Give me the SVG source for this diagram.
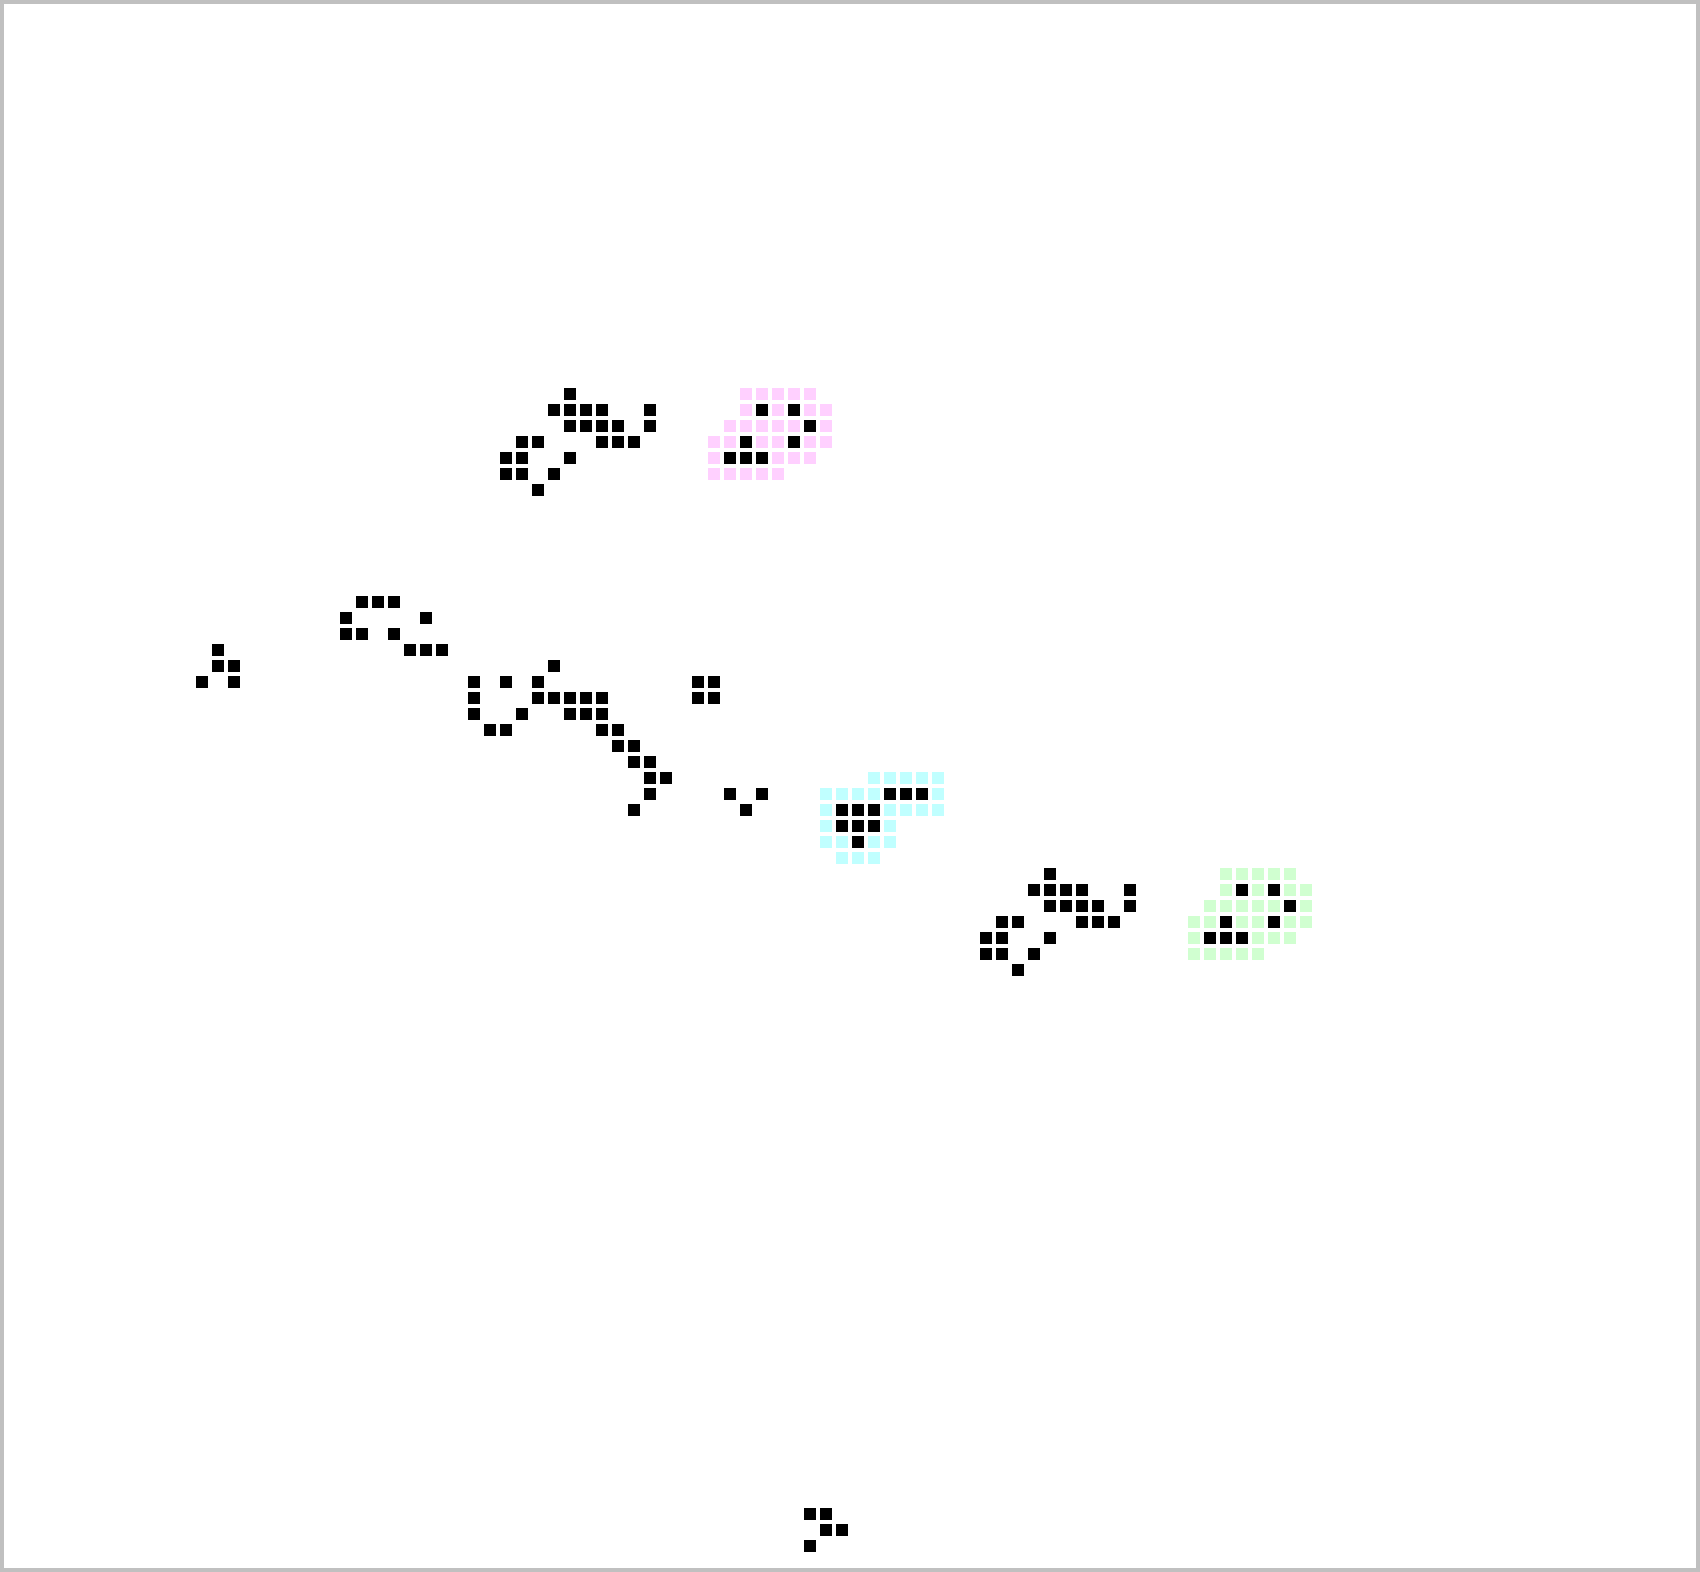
<svg xmlns="http://www.w3.org/2000/svg" xmlns:xlink="http://www.w3.org/1999/xlink" width="1700" height="1572" viewBox="0 0 1700 1572">
<style>
.live{fill:#000000}
.pink{fill:#ffd0ff}
.cyan{fill:#c0ffff}
.green{fill:#d0ffd0}
</style>
<defs><rect id="s" width="12" height="12"/></defs>
<rect x="2" y="2" width="1696" height="1568" fill="#ffffff" stroke="#c0c0c0" stroke-width="4"/>
<g id="halo-pink" class="pink">
<use href="#s" x="740" y="388"/><use href="#s" x="756" y="388"/><use href="#s" x="772" y="388"/><use href="#s" x="788" y="388"/><use href="#s" x="804" y="388"/>
<use href="#s" x="740" y="404"/><use href="#s" x="772" y="404"/><use href="#s" x="804" y="404"/><use href="#s" x="820" y="404"/>
<use href="#s" x="724" y="420"/><use href="#s" x="740" y="420"/><use href="#s" x="756" y="420"/><use href="#s" x="772" y="420"/><use href="#s" x="788" y="420"/><use href="#s" x="820" y="420"/>
<use href="#s" x="708" y="436"/><use href="#s" x="724" y="436"/><use href="#s" x="756" y="436"/><use href="#s" x="772" y="436"/><use href="#s" x="804" y="436"/><use href="#s" x="820" y="436"/>
<use href="#s" x="708" y="452"/><use href="#s" x="772" y="452"/><use href="#s" x="788" y="452"/><use href="#s" x="804" y="452"/>
<use href="#s" x="708" y="468"/><use href="#s" x="724" y="468"/><use href="#s" x="740" y="468"/><use href="#s" x="756" y="468"/><use href="#s" x="772" y="468"/>
</g>
<g id="halo-green" class="green">
<use href="#s" x="1220" y="868"/><use href="#s" x="1236" y="868"/><use href="#s" x="1252" y="868"/><use href="#s" x="1268" y="868"/><use href="#s" x="1284" y="868"/>
<use href="#s" x="1220" y="884"/><use href="#s" x="1252" y="884"/><use href="#s" x="1284" y="884"/><use href="#s" x="1300" y="884"/>
<use href="#s" x="1204" y="900"/><use href="#s" x="1220" y="900"/><use href="#s" x="1236" y="900"/><use href="#s" x="1252" y="900"/><use href="#s" x="1268" y="900"/><use href="#s" x="1300" y="900"/>
<use href="#s" x="1188" y="916"/><use href="#s" x="1204" y="916"/><use href="#s" x="1236" y="916"/><use href="#s" x="1252" y="916"/><use href="#s" x="1284" y="916"/><use href="#s" x="1300" y="916"/>
<use href="#s" x="1188" y="932"/><use href="#s" x="1252" y="932"/><use href="#s" x="1268" y="932"/><use href="#s" x="1284" y="932"/>
<use href="#s" x="1188" y="948"/><use href="#s" x="1204" y="948"/><use href="#s" x="1220" y="948"/><use href="#s" x="1236" y="948"/><use href="#s" x="1252" y="948"/>
</g>
<g id="halo-cyan" class="cyan">
<use href="#s" x="868" y="772"/><use href="#s" x="884" y="772"/><use href="#s" x="900" y="772"/><use href="#s" x="916" y="772"/><use href="#s" x="932" y="772"/>
<use href="#s" x="820" y="788"/><use href="#s" x="836" y="788"/><use href="#s" x="852" y="788"/><use href="#s" x="868" y="788"/><use href="#s" x="932" y="788"/>
<use href="#s" x="820" y="804"/><use href="#s" x="884" y="804"/><use href="#s" x="900" y="804"/><use href="#s" x="916" y="804"/><use href="#s" x="932" y="804"/>
<use href="#s" x="820" y="820"/><use href="#s" x="884" y="820"/>
<use href="#s" x="820" y="836"/><use href="#s" x="836" y="836"/><use href="#s" x="868" y="836"/><use href="#s" x="884" y="836"/>
<use href="#s" x="836" y="852"/><use href="#s" x="852" y="852"/><use href="#s" x="868" y="852"/>
</g>
<g id="cluster-top" class="live">
<use href="#s" x="564" y="388"/>
<use href="#s" x="548" y="404"/><use href="#s" x="564" y="404"/><use href="#s" x="580" y="404"/><use href="#s" x="596" y="404"/><use href="#s" x="644" y="404"/>
<use href="#s" x="564" y="420"/><use href="#s" x="580" y="420"/><use href="#s" x="596" y="420"/><use href="#s" x="612" y="420"/><use href="#s" x="644" y="420"/>
<use href="#s" x="516" y="436"/><use href="#s" x="532" y="436"/><use href="#s" x="596" y="436"/><use href="#s" x="612" y="436"/><use href="#s" x="628" y="436"/>
<use href="#s" x="500" y="452"/><use href="#s" x="516" y="452"/><use href="#s" x="564" y="452"/>
<use href="#s" x="500" y="468"/><use href="#s" x="516" y="468"/><use href="#s" x="548" y="468"/>
<use href="#s" x="532" y="484"/>
</g>
<g id="glider-pink" class="live">
<use href="#s" x="756" y="404"/><use href="#s" x="788" y="404"/><use href="#s" x="804" y="420"/><use href="#s" x="740" y="436"/><use href="#s" x="788" y="436"/><use href="#s" x="724" y="452"/><use href="#s" x="740" y="452"/><use href="#s" x="756" y="452"/>
</g>
<g id="cluster-left" class="live">
<use href="#s" x="356" y="596"/><use href="#s" x="372" y="596"/><use href="#s" x="388" y="596"/>
<use href="#s" x="340" y="612"/><use href="#s" x="420" y="612"/>
<use href="#s" x="340" y="628"/><use href="#s" x="356" y="628"/><use href="#s" x="388" y="628"/>
<use href="#s" x="212" y="644"/><use href="#s" x="404" y="644"/><use href="#s" x="420" y="644"/><use href="#s" x="436" y="644"/>
<use href="#s" x="212" y="660"/><use href="#s" x="228" y="660"/>
<use href="#s" x="196" y="676"/><use href="#s" x="228" y="676"/>
</g>
<g id="cluster-middle" class="live">
<use href="#s" x="548" y="660"/>
<use href="#s" x="468" y="676"/><use href="#s" x="500" y="676"/><use href="#s" x="532" y="676"/><use href="#s" x="692" y="676"/><use href="#s" x="708" y="676"/>
<use href="#s" x="468" y="692"/><use href="#s" x="532" y="692"/><use href="#s" x="548" y="692"/><use href="#s" x="564" y="692"/><use href="#s" x="580" y="692"/><use href="#s" x="596" y="692"/><use href="#s" x="692" y="692"/><use href="#s" x="708" y="692"/>
<use href="#s" x="468" y="708"/><use href="#s" x="516" y="708"/><use href="#s" x="564" y="708"/><use href="#s" x="580" y="708"/><use href="#s" x="596" y="708"/>
<use href="#s" x="484" y="724"/><use href="#s" x="500" y="724"/><use href="#s" x="596" y="724"/><use href="#s" x="612" y="724"/>
<use href="#s" x="612" y="740"/><use href="#s" x="628" y="740"/>
<use href="#s" x="628" y="756"/><use href="#s" x="644" y="756"/>
<use href="#s" x="644" y="772"/><use href="#s" x="660" y="772"/>
<use href="#s" x="644" y="788"/><use href="#s" x="724" y="788"/><use href="#s" x="756" y="788"/>
<use href="#s" x="628" y="804"/><use href="#s" x="740" y="804"/>
</g>
<g id="glider-cyan" class="live">
<use href="#s" x="884" y="788"/><use href="#s" x="900" y="788"/><use href="#s" x="916" y="788"/>
<use href="#s" x="836" y="804"/><use href="#s" x="852" y="804"/><use href="#s" x="868" y="804"/>
<use href="#s" x="836" y="820"/><use href="#s" x="852" y="820"/><use href="#s" x="868" y="820"/>
<use href="#s" x="852" y="836"/>
</g>
<g id="cluster-lower" class="live">
<use href="#s" x="1044" y="868"/>
<use href="#s" x="1028" y="884"/><use href="#s" x="1044" y="884"/><use href="#s" x="1060" y="884"/><use href="#s" x="1076" y="884"/><use href="#s" x="1124" y="884"/>
<use href="#s" x="1044" y="900"/><use href="#s" x="1060" y="900"/><use href="#s" x="1076" y="900"/><use href="#s" x="1092" y="900"/><use href="#s" x="1124" y="900"/>
<use href="#s" x="996" y="916"/><use href="#s" x="1012" y="916"/><use href="#s" x="1076" y="916"/><use href="#s" x="1092" y="916"/><use href="#s" x="1108" y="916"/>
<use href="#s" x="980" y="932"/><use href="#s" x="996" y="932"/><use href="#s" x="1044" y="932"/>
<use href="#s" x="980" y="948"/><use href="#s" x="996" y="948"/><use href="#s" x="1028" y="948"/>
<use href="#s" x="1012" y="964"/>
</g>
<g id="glider-green" class="live">
<use href="#s" x="1236" y="884"/><use href="#s" x="1268" y="884"/><use href="#s" x="1284" y="900"/><use href="#s" x="1220" y="916"/><use href="#s" x="1268" y="916"/><use href="#s" x="1204" y="932"/><use href="#s" x="1220" y="932"/><use href="#s" x="1236" y="932"/>
</g>
<g id="glider-bottom" class="live">
<use href="#s" x="804" y="1508"/><use href="#s" x="820" y="1508"/>
<use href="#s" x="820" y="1524"/><use href="#s" x="836" y="1524"/>
<use href="#s" x="804" y="1540"/>
</g>
</svg>
